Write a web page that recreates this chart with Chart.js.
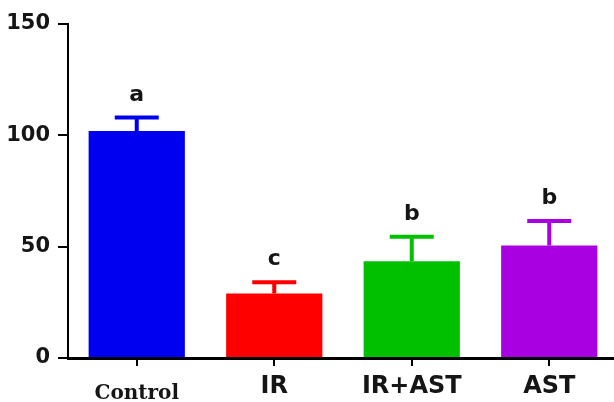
<!DOCTYPE html>
<html>
<head>
<meta charset="utf-8">
<script src="https://cdn.jsdelivr.net/npm/chart.js@4/dist/chart.umd.min.js"></script>
<style>
  html, body { margin: 0; padding: 0; background: #fff; overflow: hidden; }
  #wrap { width: 620px; height: 402px; position: relative; }
</style>
</head>
<body>
<div id="wrap"><canvas id="barChart"></canvas></div>
<script>
// данные
const groups = ['Control', 'IR', 'IR+AST', 'AST'];
const means = [102, 29, 43.5, 50.5];
const errors = [6, 5, 11, 11];
const letters = ['a', 'c', 'b', 'b'];
const yTicks = [0, 50, 100, 150];

const barColors = ['#0000f0', '#ff0000', '#00c000', '#a800e0'];

// Плагин: планки погрешностей и буквы над ними
const errorBars = {
  id: 'errorBars',
  afterDatasetsDraw(chart) {
    const {ctx, scales: {y}} = chart;
    const meta = chart.getDatasetMeta(0);
    ctx.save();
    meta.data.forEach((bar, i) => {
      const top = y.getPixelForValue(means[i] + errors[i]);
      const base = y.getPixelForValue(means[i]);
      ctx.strokeStyle = barColors[i];
      ctx.lineWidth = 4;
      ctx.beginPath();
      ctx.moveTo(bar.x, base);
      ctx.lineTo(bar.x, top);
      ctx.moveTo(bar.x - 22, top);
      ctx.lineTo(bar.x + 22, top);
      ctx.stroke();

      ctx.fillStyle = '#151515';
      ctx.font = 'bold 22px "DejaVu Sans"';
      ctx.textAlign = 'center';
      ctx.textBaseline = 'alphabetic';
      ctx.fillText(letters[i], bar.x, top - 17);
    });
    ctx.restore();
  }
};

const ctx = document.getElementById('barChart').getContext('2d');
new Chart(ctx, {
  type: 'bar',
  data: {
    labels: groups,
    datasets: [{
      data: means,
      backgroundColor: barColors,
      borderWidth: 0,
      categoryPercentage: 1,
      barPercentage: 0.7
    }]
  },
  options: {
    responsive: true,
    maintainAspectRatio: false,
    animation: false,
    layout: { padding: { left: 6, top: 24, right: 2, bottom: 0 } },
    plugins: {
      legend: { display: false },
      tooltip: { enabled: false }
    },
    scales: {
      x: {
        afterFit(scale) { scale.height = 44; },
        border: { color: '#000', width: 3 },
        grid: { offset: false, drawOnChartArea: false, tickLength: 8, color: '#000', lineWidth: 2 },
        ticks: {
          color: '#151515',
          padding: 6,
          font: (c) => c.index === 0
            ? { family: 'DejaVu Serif', weight: 'bold', size: 20, lineHeight: 2.2 }
            : { family: 'DejaVu Sans', weight: 'bold', size: 24 }
        }
      },
      y: {
        min: 0,
        max: 150,
        afterFit(scale) { scale.width = 62; },
        afterBuildTicks(scale) { scale.ticks = yTicks.map(v => ({ value: v })); },
        border: { color: '#000', width: 2 },
        grid: { drawOnChartArea: false, tickLength: 10, color: '#000', lineWidth: 2 },
        ticks: {
          color: '#151515',
          padding: 8,
          font: { family: 'DejaVu Sans', weight: 'bold', size: 21 }
        }
      }
    }
  },
  plugins: [errorBars]
});
</script>
</body>
</html>
